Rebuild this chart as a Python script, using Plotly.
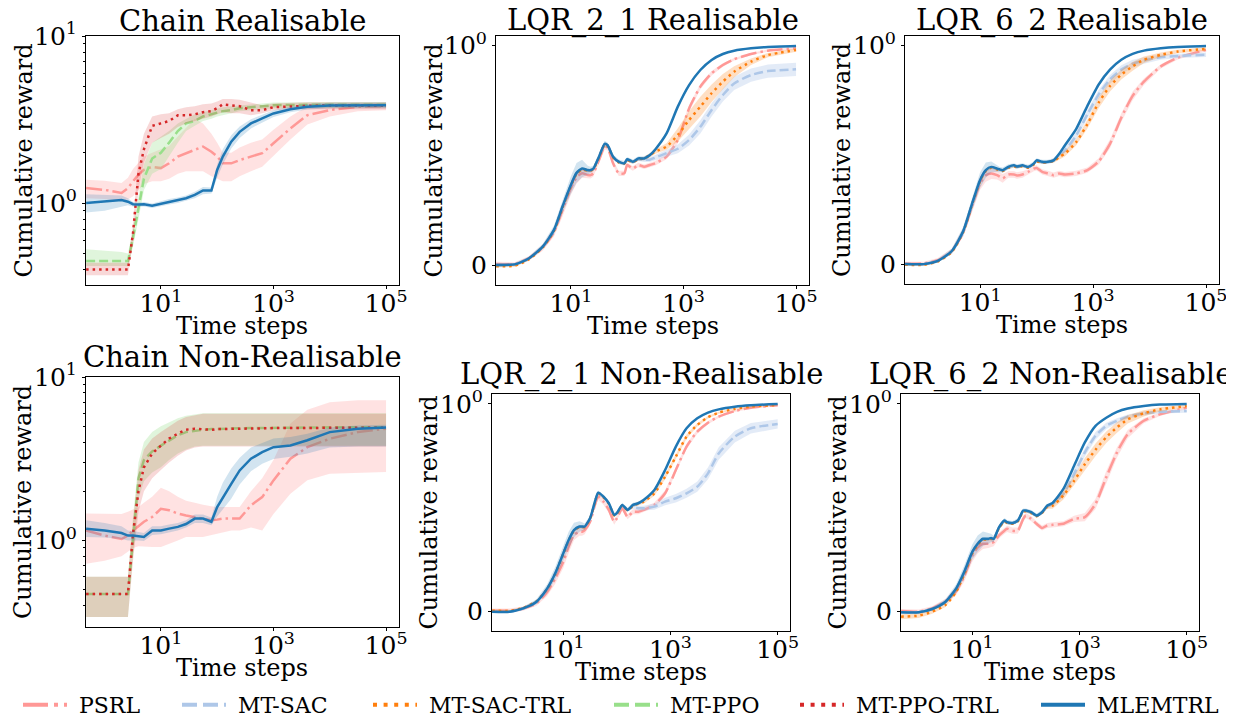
import plotly.graph_objects as go

FONT = "DejaVu Serif"

# ---------------- data ----------------
# time steps used for the Chain panels
chain_t = [0.47, 1, 2, 2.6, 3.2, 4, 5, 7, 10, 14, 20, 28, 40, 56, 79, 100, 126, 178,
           251, 398, 631, 1000, 2000, 4000, 10000, 31600, 100000]

# Chain Realisable
cr_psrl = [1.23, 1.2, 1.15, 1.23, 1.35, 1.48, 1.58, 1.65, 1.62, 1.73, 1.9, 1.99, 2.08, 2.18,
           2.03, 1.9, 1.73, 1.73, 1.81, 1.9, 1.99, 2.28, 2.8, 3.36, 3.6, 3.77, 3.81]
cr_psrl_lo = [1.07, 1.06, 1.03, 1.05, 1.1, 1.2, 1.3, 1.35, 1.35, 1.4, 1.5, 1.55, 1.55, 1.55,
              1.45, 1.4, 1.35, 1.35, 1.45, 1.55, 1.65, 1.9, 2.4, 2.95, 3.3, 3.55, 3.6]
cr_psrl_hi = [1.38, 1.36, 1.32, 1.42, 1.6, 1.75, 1.9, 2.0, 2.1, 2.2, 2.5, 2.8, 3.2, 3.0,
              2.6, 2.3, 2.0, 2.0, 2.15, 2.3, 2.4, 2.75, 3.3, 3.8, 3.9, 3.95, 3.98]
cr_ppo = [0.45, 0.45, 0.45, 0.45, 0.62, 0.95, 1.4, 1.85, 2.0, 2.3, 2.7, 3.0, 3.1, 3.3,
          3.4, 3.5, 3.55, 3.6, 3.7, 3.75, 3.8, 3.85, 3.87, 3.88, 3.88, 3.88, 3.88]
cr_ppo_lo = [0.42, 0.42, 0.42, 0.42, 0.55, 0.8, 1.2, 1.5, 1.6, 1.9, 2.3, 2.7, 2.9, 3.1,
             3.2, 3.3, 3.35, 3.45, 3.55, 3.6, 3.65, 3.7, 3.72, 3.72, 3.72, 3.72, 3.72]
cr_ppo_hi = [0.53, 0.52, 0.51, 0.5, 0.7, 1.1, 1.7, 2.3, 2.5, 2.7, 3.0, 3.2, 3.4, 3.5,
             3.6, 3.7, 3.75, 3.8, 3.85, 3.9, 3.95, 4.0, 4.02, 4.03, 4.03, 4.03, 4.03]
cr_ppotrl = [0.40, 0.40, 0.40, 0.40, 0.66, 1.5, 2.1, 2.9, 3.0, 3.1, 3.35, 3.35, 3.4, 3.5,
             3.55, 3.7, 3.9, 3.85, 3.8, 3.6, 3.6, 3.75, 3.8, 3.82, 3.84, 3.84, 3.84]
cr_ppotrl_lo = [0.37, 0.37, 0.37, 0.37, 0.6, 1.2, 1.75, 2.3, 2.45, 2.6, 2.85, 3.0, 3.1, 3.2,
                3.3, 3.4, 3.5, 3.45, 3.45, 3.35, 3.45, 3.6, 3.65, 3.65, 3.65, 3.65, 3.65]
cr_ppotrl_hi = [0.44, 0.44, 0.44, 0.44, 0.75, 1.9, 2.6, 3.3, 3.4, 3.45, 3.65, 3.75, 3.8, 3.9,
                3.95, 4.05, 4.2, 4.2, 4.15, 4.0, 3.85, 3.95, 4.0, 4.02, 4.02, 4.02, 4.02]
cr_mle = [1.0, 1.02, 1.045, 1.02, 0.985, 0.98, 0.985, 0.965, 0.99, 1.02, 1.04, 1.07, 1.12, 1.19,
          1.19, 1.58, 1.9, 2.33, 2.67, 3.0, 3.21, 3.44, 3.64, 3.77, 3.84, 3.85, 3.85]
cr_mle_lo = [0.88, 0.9, 0.95, 0.97, 0.955, 0.95, 0.955, 0.935, 0.955, 0.98, 1.0, 1.03, 1.07, 1.13,
             1.14, 1.42, 1.7, 2.12, 2.45, 2.8, 3.03, 3.28, 3.5, 3.63, 3.7, 3.7, 3.7]
cr_mle_hi = [1.13, 1.12, 1.11, 1.07, 1.015, 1.01, 1.015, 0.995, 1.03, 1.06, 1.08, 1.11, 1.17, 1.25,
             1.24, 1.7, 2.1, 2.55, 2.87, 3.18, 3.38, 3.6, 3.78, 3.92, 3.98, 4.0, 4.0]

# Chain Non-Realisable
cn_psrl = [1.15, 1.07, 1.02, 1.07, 1.15, 1.22, 1.3, 1.39, 1.56, 1.53, 1.46, 1.42, 1.39, 1.36,
           1.33, 1.34, 1.36, 1.36, 1.36, 1.64, 1.84, 2.33, 3.16, 3.72, 4.19, 4.6, 4.83]
cn_psrl_lo = [0.72, 0.75, 0.8, 0.85, 0.9, 0.92, 0.92, 0.91, 0.91, 0.95, 1.0, 1.05, 1.05, 1.05,
              1.07, 1.1, 1.12, 1.15, 1.15, 1.2, 1.15, 1.45, 1.93, 2.33, 2.56, 2.6, 2.62]
cn_psrl_hi = [1.46, 1.46, 1.45, 1.5, 1.55, 1.6, 1.7, 1.85, 2.1, 2.0, 1.85, 1.75, 1.7, 1.65,
              1.62, 1.6, 1.6, 1.6, 1.6, 2.0, 2.4, 3.1, 5.2, 6.3, 7.0, 7.2, 7.2]
cn_ppo = [0.47, 0.47, 0.47, 0.47, 1.0, 2.4, 3.1, 3.5, 3.8, 4.1, 4.4, 4.6, 4.7, 4.75,
          4.8, 4.8, 4.85, 4.85, 4.85, 4.87, 4.88, 4.9, 4.9, 4.92, 4.92, 4.92, 4.92]
cn_ppo_lo = [0.34, 0.34, 0.34, 0.34, 0.8, 1.8, 2.3, 2.6, 2.8, 3.1, 3.4, 3.6, 3.75, 3.8,
             3.8, 3.8, 3.8, 3.8, 3.8, 3.8, 3.8, 3.8, 3.8, 3.8, 3.8, 3.8, 3.8]
cn_ppo_hi = [0.6, 0.6, 0.6, 0.6, 1.4, 3.0, 4.0, 4.6, 5.0, 5.3, 5.6, 5.8, 5.9, 6.0,
             6.0, 6.0, 6.0, 6.0, 6.0, 6.0, 6.0, 6.0, 6.0, 6.0, 6.0, 6.0, 6.0]
cn_ppotrl = [0.47, 0.47, 0.47, 0.47, 1.1, 2.0, 2.8, 3.4, 3.8, 4.2, 4.5, 4.76, 4.83, 4.8,
             4.75, 4.8, 4.8, 4.8, 4.82, 4.85, 4.85, 4.87, 4.88, 4.9, 4.9, 4.9, 4.9]
cn_ppotrl_lo = [0.34, 0.34, 0.34, 0.34, 0.75, 1.5, 2.0, 2.4, 2.7, 3.0, 3.3, 3.55, 3.7, 3.75,
                3.75, 3.75, 3.75, 3.75, 3.75, 3.75, 3.75, 3.75, 3.75, 3.75, 3.75, 3.75, 3.75]
cn_ppotrl_hi = [0.6, 0.6, 0.6, 0.6, 1.3, 2.7, 3.6, 4.2, 4.6, 5.0, 5.4, 5.7, 5.85, 5.95,
                5.95, 5.95, 5.95, 5.95, 5.95, 5.95, 5.95, 5.95, 5.95, 5.95, 5.95, 5.95, 5.95]
cn_mle = [1.18, 1.15, 1.11, 1.07, 1.07, 1.06, 1.05, 1.15, 1.15, 1.18, 1.21, 1.26, 1.36, 1.36,
          1.3, 1.6, 1.84, 2.22, 2.68, 3.16, 3.47, 3.72, 3.81, 4.1, 4.6, 4.83, 4.9]
cn_mle_lo = [1.05, 1.04, 1.02, 1.0, 1.0, 1.0, 0.99, 1.08, 1.09, 1.12, 1.15, 1.2, 1.28, 1.28,
             1.24, 1.4, 1.55, 1.8, 2.2, 2.65, 2.95, 3.15, 3.25, 3.4, 3.7, 3.75, 3.75]
cn_mle_hi = [1.33, 1.28, 1.22, 1.15, 1.14, 1.12, 1.11, 1.22, 1.22, 1.25, 1.28, 1.33, 1.44, 1.44,
             1.38, 1.85, 2.25, 2.75, 3.2, 3.7, 3.95, 4.2, 4.3, 4.5, 4.9, 5.05, 5.1]

# time steps used for the LQR panels (normalised reward, 0 .. 10^0)
lqr_t = [0.47, 1, 1.78, 3.16, 5.01, 7.08, 10, 12.6, 15.8, 20, 22.4, 25.1, 31.6, 39.8, 44.7,
         56.2, 70.8, 89.1, 100, 126, 158, 200, 251, 316, 501, 794, 1259, 1995, 3162, 5012,
         7943, 15849, 31623, 100000]

# LQR_2_1 Realisable
l21r_psrl = [0.005, 0.005, 0.03, 0.08, 0.15, 0.25, 0.35, 0.40, 0.418, 0.41, 0.41, 0.418, 0.479,
             0.54, 0.535, 0.464, 0.418, 0.418, 0.456, 0.44, 0.456, 0.448, 0.456, 0.464, 0.494,
             0.57, 0.714, 0.813, 0.874, 0.912, 0.938, 0.962, 0.977, 0.988]
l21r_psrl_sd = [0.01, 0.008, 0.01, 0.015, 0.02, 0.03, 0.03, 0.03, 0.02, 0.015, 0.015, 0.015, 0.015,
                0.015, 0.012, 0.012, 0.012, 0.012, 0.01, 0.01, 0.01, 0.01, 0.01, 0.01, 0.012,
                0.015, 0.015, 0.012, 0.01, 0.008, 0.006, 0.005, 0.005, 0.005]
l21r_sac = [0.0, 0.002, 0.028, 0.082, 0.158, 0.264, 0.363, 0.418, 0.438, 0.431, 0.431, 0.438, 0.492,
            0.55, 0.545, 0.492, 0.469, 0.462, 0.48, 0.469, 0.482, 0.48, 0.48, 0.49, 0.51,
            0.53, 0.57, 0.63, 0.707, 0.775, 0.828, 0.866, 0.884, 0.892]
l21r_sac_sd = [0.005, 0.005, 0.005, 0.005, 0.005, 0.005, 0.005, 0.005, 0.005, 0.005, 0.005, 0.005,
               0.005, 0.005, 0.005, 0.005, 0.005, 0.005, 0.005, 0.005, 0.008, 0.01, 0.01, 0.012,
               0.015, 0.02, 0.025, 0.03, 0.03, 0.03, 0.03, 0.03, 0.03, 0.03]
l21r_sactrl = [-0.005, -0.003, 0.025, 0.08, 0.155, 0.26, 0.36, 0.415, 0.435, 0.43, 0.43, 0.437, 0.49,
               0.548, 0.543, 0.49, 0.468, 0.462, 0.478, 0.469, 0.483, 0.486, 0.5, 0.517, 0.54,
               0.593, 0.661, 0.722, 0.783, 0.836, 0.881, 0.927, 0.957, 0.98]
l21r_sactrl_sd = [0.006, 0.006, 0.006, 0.006, 0.006, 0.006, 0.006, 0.006, 0.006, 0.006, 0.006, 0.006,
                  0.006, 0.006, 0.006, 0.006, 0.006, 0.006, 0.006, 0.006, 0.006, 0.008, 0.01, 0.01,
                  0.015, 0.03, 0.04, 0.045, 0.04, 0.035, 0.025, 0.015, 0.01, 0.008]
l21r_mle = [0.0, 0.003, 0.03, 0.084, 0.16, 0.266, 0.365, 0.42, 0.44, 0.433, 0.433, 0.44, 0.494,
            0.552, 0.547, 0.494, 0.471, 0.464, 0.482, 0.471, 0.486, 0.486, 0.5, 0.527, 0.6,
            0.722, 0.82, 0.889, 0.935, 0.962, 0.977, 0.988, 0.994, 0.998]
l21r_mle_sd = [0.008, 0.006, 0.008, 0.012, 0.02, 0.03, 0.04, 0.045, 0.04, 0.02, 0.015, 0.012, 0.015,
               0.015, 0.012, 0.01, 0.01, 0.01, 0.01, 0.01, 0.01, 0.01, 0.008, 0.008, 0.006,
               0.006, 0.005, 0.004, 0.003, 0.003, 0.003, 0.003, 0.003, 0.003]

# LQR_6_2 Realisable
l62r_psrl = [0.003, 0.003, 0.018, 0.06, 0.145, 0.26, 0.37, 0.407, 0.415, 0.407, 0.4, 0.392, 0.41,
             0.41, 0.406, 0.41, 0.422, 0.437, 0.44, 0.422, 0.415, 0.407, 0.415, 0.41, 0.415,
             0.43, 0.47, 0.55, 0.67, 0.77, 0.835, 0.905, 0.945, 0.98]
l62r_psrl_sd = [0.008, 0.008, 0.01, 0.012, 0.02, 0.025, 0.03, 0.03, 0.025, 0.02, 0.02, 0.02, 0.015,
                0.015, 0.015, 0.015, 0.012, 0.012, 0.012, 0.012, 0.012, 0.012, 0.012, 0.012, 0.012,
                0.012, 0.015, 0.02, 0.02, 0.02, 0.015, 0.01, 0.008, 0.006]
l62r_sac = [0.0, 0.0, 0.014, 0.058, 0.148, 0.268, 0.383, 0.428, 0.443, 0.435, 0.431, 0.428, 0.443,
            0.45, 0.445, 0.45, 0.443, 0.458, 0.473, 0.466, 0.466, 0.475, 0.5, 0.52, 0.588,
            0.686, 0.777, 0.845, 0.89, 0.917, 0.932, 0.947, 0.953, 0.958]
l62r_sac_sd = [0.005, 0.005, 0.005, 0.005, 0.005, 0.005, 0.005, 0.005, 0.005, 0.005, 0.005, 0.005,
               0.005, 0.005, 0.005, 0.005, 0.005, 0.005, 0.005, 0.005, 0.006, 0.008, 0.01, 0.012,
               0.015, 0.018, 0.02, 0.02, 0.02, 0.018, 0.015, 0.012, 0.01, 0.01]
l62r_sactrl = [-0.003, -0.003, 0.012, 0.056, 0.146, 0.266, 0.38, 0.426, 0.441, 0.433, 0.429, 0.426,
               0.441, 0.448, 0.443, 0.448, 0.441, 0.456, 0.47, 0.464, 0.468, 0.472, 0.49, 0.505,
               0.558, 0.641, 0.739, 0.815, 0.867, 0.905, 0.935, 0.958, 0.973, 0.985]
l62r_sactrl_sd = [0.005, 0.005, 0.005, 0.005, 0.005, 0.005, 0.005, 0.005, 0.005, 0.005, 0.005, 0.005,
                  0.005, 0.005, 0.005, 0.005, 0.005, 0.005, 0.005, 0.005, 0.005, 0.008, 0.01, 0.012,
                  0.015, 0.02, 0.025, 0.025, 0.022, 0.02, 0.015, 0.01, 0.008, 0.008]
l62r_mle = [0.0, 0.0, 0.015, 0.06, 0.15, 0.27, 0.385, 0.43, 0.445, 0.437, 0.433, 0.43, 0.445,
            0.452, 0.447, 0.452, 0.445, 0.46, 0.475, 0.468, 0.468, 0.475, 0.505, 0.543, 0.618,
            0.724, 0.822, 0.89, 0.935, 0.962, 0.977, 0.988, 0.994, 0.998]
l62r_mle_sd = [0.005, 0.005, 0.008, 0.012, 0.02, 0.03, 0.035, 0.035, 0.025, 0.015, 0.012, 0.012, 0.012,
               0.01, 0.01, 0.01, 0.01, 0.01, 0.01, 0.01, 0.01, 0.01, 0.008, 0.008, 0.006,
               0.006, 0.005, 0.004, 0.003, 0.003, 0.003, 0.003, 0.003, 0.003]

# LQR_2_1 Non-Realisable
l21n_psrl = [0.005, 0.005, 0.015, 0.04, 0.095, 0.16, 0.24, 0.313, 0.369, 0.385, 0.385, 0.393, 0.433,
             0.522, 0.554, 0.53, 0.49, 0.433, 0.449, 0.498, 0.457, 0.481, 0.481, 0.49, 0.514,
             0.57, 0.682, 0.795, 0.867, 0.91, 0.939, 0.966, 0.982, 0.994]
l21n_psrl_sd = [0.01, 0.01, 0.01, 0.012, 0.02, 0.025, 0.03, 0.03, 0.025, 0.02, 0.02, 0.02, 0.015,
                0.015, 0.015, 0.015, 0.015, 0.015, 0.012, 0.012, 0.012, 0.012, 0.012, 0.012, 0.012,
                0.015, 0.015, 0.012, 0.01, 0.008, 0.006, 0.005, 0.005, 0.005]
l21n_sac = [0.0, 0.0, 0.015, 0.046, 0.11, 0.183, 0.279, 0.343, 0.391, 0.408, 0.408, 0.408, 0.448,
            0.536, 0.571, 0.552, 0.52, 0.464, 0.472, 0.512, 0.49, 0.505, 0.498, 0.498, 0.506,
            0.53, 0.546, 0.57, 0.602, 0.666, 0.762, 0.843, 0.883, 0.904]
l21n_sac_sd = [0.005, 0.005, 0.005, 0.005, 0.005, 0.005, 0.005, 0.005, 0.005, 0.005, 0.005, 0.005,
               0.005, 0.005, 0.005, 0.005, 0.005, 0.005, 0.005, 0.005, 0.008, 0.01, 0.012, 0.012,
               0.015, 0.018, 0.02, 0.022, 0.025, 0.028, 0.03, 0.028, 0.025, 0.022]
l21n_sactrl = [0.005, 0.004, 0.018, 0.05, 0.11, 0.182, 0.278, 0.342, 0.39, 0.407, 0.407, 0.407, 0.447,
               0.535, 0.57, 0.551, 0.519, 0.463, 0.471, 0.511, 0.488, 0.511, 0.52, 0.53, 0.57,
               0.65, 0.746, 0.843, 0.899, 0.936, 0.958, 0.976, 0.987, 0.995]
l21n_sactrl_sd = [0.005, 0.005, 0.005, 0.005, 0.005, 0.005, 0.005, 0.005, 0.005, 0.005, 0.005, 0.005,
                  0.005, 0.005, 0.005, 0.005, 0.005, 0.005, 0.005, 0.005, 0.005, 0.006, 0.008, 0.01,
                  0.012, 0.012, 0.012, 0.01, 0.008, 0.006, 0.005, 0.004, 0.004, 0.004]
l21n_mle = [0.0, 0.0, 0.016, 0.048, 0.112, 0.185, 0.281, 0.345, 0.393, 0.41, 0.41, 0.41, 0.45,
            0.538, 0.573, 0.554, 0.522, 0.466, 0.474, 0.514, 0.49, 0.514, 0.522, 0.538, 0.586,
            0.682, 0.795, 0.883, 0.931, 0.958, 0.974, 0.987, 0.994, 1.0]
l21n_mle_sd = [0.006, 0.006, 0.008, 0.012, 0.02, 0.03, 0.035, 0.04, 0.035, 0.025, 0.02, 0.015, 0.012,
               0.012, 0.01, 0.01, 0.01, 0.01, 0.01, 0.01, 0.01, 0.01, 0.008, 0.008, 0.006,
               0.006, 0.005, 0.004, 0.003, 0.003, 0.003, 0.003, 0.003, 0.003]

# LQR_6_2 Non-Realisable
l62n_psrl = [0.003, 0.0, 0.016, 0.05, 0.1, 0.17, 0.27, 0.31, 0.327, 0.327, 0.33, 0.335, 0.367,
             0.39, 0.399, 0.39, 0.39, 0.447, 0.463, 0.447, 0.423, 0.403, 0.415, 0.418, 0.423,
             0.447, 0.455, 0.519, 0.647, 0.767, 0.855, 0.919, 0.95, 0.982]
l62n_psrl_sd = [0.01, 0.01, 0.01, 0.012, 0.02, 0.025, 0.03, 0.03, 0.025, 0.02, 0.02, 0.02, 0.015,
                0.015, 0.015, 0.015, 0.015, 0.015, 0.012, 0.012, 0.012, 0.012, 0.012, 0.012, 0.012,
                0.015, 0.02, 0.025, 0.03, 0.025, 0.02, 0.012, 0.008, 0.006]
l62n_sac = [-0.003, -0.003, 0.012, 0.047, 0.11, 0.19, 0.286, 0.325, 0.349, 0.349, 0.353, 0.349, 0.405,
            0.437, 0.429, 0.425, 0.437, 0.485, 0.485, 0.477, 0.461, 0.477, 0.505, 0.52, 0.567,
            0.663, 0.767, 0.847, 0.895, 0.919, 0.939, 0.955, 0.962, 0.966]
l62n_sac_sd = [0.005, 0.005, 0.005, 0.005, 0.005, 0.005, 0.005, 0.005, 0.005, 0.005, 0.005, 0.005,
               0.005, 0.005, 0.005, 0.005, 0.005, 0.005, 0.005, 0.005, 0.006, 0.008, 0.01, 0.012,
               0.015, 0.018, 0.02, 0.018, 0.015, 0.012, 0.01, 0.01, 0.008, 0.008]
l62n_sactrl = [-0.024, -0.019, 0.0, 0.032, 0.096, 0.18, 0.28, 0.322, 0.347, 0.347, 0.351, 0.347, 0.403,
               0.435, 0.427, 0.423, 0.435, 0.483, 0.483, 0.475, 0.46, 0.476, 0.505, 0.51, 0.56,
               0.63, 0.71, 0.78, 0.84, 0.887, 0.926, 0.955, 0.974, 0.99]
l62n_sactrl_sd = [0.012, 0.012, 0.01, 0.01, 0.008, 0.006, 0.006, 0.006, 0.006, 0.006, 0.006, 0.006,
                  0.006, 0.006, 0.006, 0.006, 0.006, 0.006, 0.006, 0.006, 0.006, 0.008, 0.01, 0.015,
                  0.02, 0.025, 0.03, 0.03, 0.028, 0.025, 0.02, 0.015, 0.01, 0.008]
l62n_mle = [-0.003, -0.003, 0.013, 0.048, 0.112, 0.192, 0.288, 0.327, 0.351, 0.351, 0.355, 0.351, 0.407,
            0.439, 0.431, 0.427, 0.439, 0.487, 0.487, 0.479, 0.463, 0.479, 0.511, 0.524, 0.591,
            0.703, 0.815, 0.895, 0.934, 0.962, 0.978, 0.99, 0.997, 1.0]
l62n_mle_sd = [0.006, 0.006, 0.008, 0.012, 0.02, 0.03, 0.035, 0.04, 0.035, 0.025, 0.02, 0.015, 0.012,
               0.012, 0.01, 0.01, 0.01, 0.01, 0.01, 0.01, 0.01, 0.01, 0.008, 0.008, 0.006,
               0.006, 0.005, 0.004, 0.003, 0.003, 0.003, 0.003, 0.003, 0.003]

x_tickvals = [10, 1000, 100000]
x_ticktext = ["10<sup>1</sup>", "10<sup>3</sup>", "10<sup>5</sup>"]

# ---------------- styles ----------------
STYLE = {
    "PSRL": dict(color="#ff9896", fill="rgba(255,152,150,0.28)", dash="16px,4px,2.5px,4px",
                 ldash="25px,6px,4px,6px"),
    "MT-SAC": dict(color="#aec7e8", fill="rgba(174,199,232,0.35)", dash="9px,4px",
                   ldash="15px,6px"),
    "MT-SAC-TRL": dict(color="#ff7f0e", fill="rgba(255,127,14,0.25)", dash="2.5px,4px",
                       ldash="4px,6.6px"),
    "MT-PPO": dict(color="#98df8a", fill="rgba(152,223,138,0.3)", dash="9px,4px",
                   ldash="15px,6px"),
    "MT-PPO-TRL": dict(color="#d62728", fill="rgba(214,39,40,0.18)", dash="2.5px,4px",
                       ldash="4px,6.6px"),
    "MLEMTRL": dict(color="#1f77b4", fill="rgba(31,119,180,0.2)", dash="solid",
                    ldash="solid"),
}

# the page body has an 8px margin, so the figure is laid out 8px smaller
W, H = 1226, 711


def dom_x(left, right):
    return [(left - 8) / W, (right - 8) / W]


def dom_y(top, bottom):
    return [1 - (bottom - 8) / H, 1 - (top - 8) / H]


def band(mean, sd):
    return [m - s for m, s in zip(mean, sd)], [m + s for m, s in zip(mean, sd)]


panels = [
    dict(title="Chain Realisable", kind="chain", dx=dom_x(86, 399), dy=dom_y(36, 285),
         yr=[-0.49, 1.0], t=chain_t, tshift=-4,
         series=[("PSRL", cr_psrl, cr_psrl_lo, cr_psrl_hi),
                 ("MT-PPO", cr_ppo, cr_ppo_lo, cr_ppo_hi),
                 ("MT-PPO-TRL", cr_ppotrl, cr_ppotrl_lo, cr_ppotrl_hi),
                 ("MLEMTRL", cr_mle, cr_mle_lo, cr_mle_hi)]),
    dict(title="LQR_2_1 Realisable", kind="lqr", dx=dom_x(496, 809), dy=dom_y(36, 285),
         yr=[-0.091, 1.044], t=lqr_t, tshift=-4,
         series=[("PSRL", l21r_psrl, *band(l21r_psrl, l21r_psrl_sd)),
                 ("MT-SAC", l21r_sac, *band(l21r_sac, l21r_sac_sd)),
                 ("MT-SAC-TRL", l21r_sactrl, *band(l21r_sactrl, l21r_sactrl_sd)),
                 ("MLEMTRL", l21r_mle, *band(l21r_mle, l21r_mle_sd))]),
    dict(title="LQR_6_2 Realisable", kind="lqr", dx=dom_x(905, 1219), dy=dom_y(36, 284),
         yr=[-0.091, 1.044], t=lqr_t, tshift=-4,
         series=[("PSRL", l62r_psrl, *band(l62r_psrl, l62r_psrl_sd)),
                 ("MT-SAC", l62r_sac, *band(l62r_sac, l62r_sac_sd)),
                 ("MT-SAC-TRL", l62r_sactrl, *band(l62r_sactrl, l62r_sactrl_sd)),
                 ("MLEMTRL", l62r_mle, *band(l62r_mle, l62r_mle_sd))]),
    dict(title="Chain Non-Realisable", kind="chain", dx=dom_x(86, 399), dy=dom_y(377, 627),
         yr=[-0.53, 1.0], t=chain_t, tshift=1,
         series=[("PSRL", cn_psrl, cn_psrl_lo, cn_psrl_hi),
                 ("MT-PPO", cn_ppo, cn_ppo_lo, cn_ppo_hi),
                 ("MT-PPO-TRL", cn_ppotrl, cn_ppotrl_lo, cn_ppotrl_hi),
                 ("MLEMTRL", cn_mle, cn_mle_lo, cn_mle_hi)]),
    dict(title="LQR_2_1 Non-Realisable", kind="lqr", dx=dom_x(492, 790), dy=dom_y(394, 631),
         yr=[-0.093, 1.048], t=lqr_t, tshift=0,
         series=[("PSRL", l21n_psrl, *band(l21n_psrl, l21n_psrl_sd)),
                 ("MT-SAC", l21n_sac, *band(l21n_sac, l21n_sac_sd)),
                 ("MT-SAC-TRL", l21n_sactrl, *band(l21n_sactrl, l21n_sactrl_sd)),
                 ("MLEMTRL", l21n_mle, *band(l21n_mle, l21n_mle_sd))]),
    dict(title="LQR_6_2 Non-Realisable", kind="lqr", dx=dom_x(901, 1199), dy=dom_y(394, 631),
         yr=[-0.093, 1.048], t=lqr_t, tshift=0,
         series=[("PSRL", l62n_psrl, *band(l62n_psrl, l62n_psrl_sd)),
                 ("MT-SAC", l62n_sac, *band(l62n_sac, l62n_sac_sd)),
                 ("MT-SAC-TRL", l62n_sactrl, *band(l62n_sactrl, l62n_sactrl_sd)),
                 ("MLEMTRL", l62n_mle, *band(l62n_mle, l62n_mle_sd))]),
]

fig = go.Figure()
annotations = []
axis_common = dict(showline=True, mirror=True, linecolor="black", linewidth=1,
                   ticks="outside", ticklen=3, tickcolor="black", showgrid=False,
                   zeroline=False, automargin=False,
                   tickfont=dict(family=FONT, size=25, color="black"))

for i, p in enumerate(panels, start=1):
    xa = "x" if i == 1 else f"x{i}"
    ya = "y" if i == 1 else f"y{i}"
    for name, mean, lo, hi in p["series"]:
        st = STYLE[name]
        fig.add_trace(go.Scatter(
            x=p["t"] + p["t"][::-1], y=hi + lo[::-1], fill="toself",
            fillcolor=st["fill"], line=dict(width=0), mode="lines",
            hoverinfo="skip", showlegend=False, xaxis=xa, yaxis=ya))
        fig.add_trace(go.Scatter(
            x=p["t"], y=mean, mode="lines", name=name, showlegend=False,
            line=dict(color=st["color"], width=2.5, dash=st["dash"],
                      shape="spline" if p["kind"] == "lqr" else "linear", smoothing=0.6),
            xaxis=xa, yaxis=ya))

    xkey = "xaxis" if i == 1 else f"xaxis{i}"
    ykey = "yaxis" if i == 1 else f"yaxis{i}"
    fig.layout[xkey] = dict(axis_common, type="log", range=[-0.33, 5.23], domain=p["dx"],
                            anchor=ya, tickvals=x_tickvals, ticktext=x_ticktext,
                            ticklabelstandoff=-7)
    if p["kind"] == "chain":
        fig.layout[ykey] = dict(axis_common, type="log", range=p["yr"], domain=p["dy"],
                                anchor=xa, tickvals=[1, 10],
                                ticktext=["10<sup>0</sup>", "10<sup>1</sup>"],
                                minor=dict(tickvals=[0.4, 0.5, 0.6, 0.7, 0.8, 0.9,
                                                     2, 3, 4, 5, 6, 7, 8, 9],
                                           ticks="outside", ticklen=2, tickcolor="black"))
    else:
        fig.layout[ykey] = dict(axis_common, type="linear", range=p["yr"], domain=p["dy"],
                                anchor=xa, tickvals=[0, 1], ticktext=["0", "10<sup>0</sup>"])

    dx_ref = f"{xa} domain"
    dy_ref = f"{ya} domain"
    annotations.append(dict(text=p["title"], xref=dx_ref, yref=dy_ref, x=0.5, y=1,
                            yshift=p["tshift"], xanchor="center", yanchor="bottom",
                            showarrow=False, font=dict(family=FONT, size=29, color="black")))
    annotations.append(dict(text="Cumulative reward", xref=dx_ref, yref=dy_ref, x=0, y=0.5,
                            xshift=-63, textangle=-90, xanchor="center", yanchor="middle",
                            showarrow=False, font=dict(family=FONT, size=24, color="black")))
    annotations.append(dict(text="Time steps", xref=dx_ref, yref=dy_ref, x=0.5, y=0,
                            yshift=-41, xanchor="center", yanchor="middle",
                            showarrow=False, font=dict(family=FONT, size=24, color="black")))

# legend: one entry per legend box so the spacing follows the reference
legend_names = ["PSRL", "MT-SAC", "MT-SAC-TRL", "MT-PPO", "MT-PPO-TRL", "MLEMTRL"]
legend_x = [23, 182, 373, 614, 800, 1041]
for k, (name, px) in enumerate(zip(legend_names, legend_x), start=1):
    lg = "legend" if k == 1 else f"legend{k}"
    st = STYLE[name]
    fig.add_trace(go.Scatter(x=[None], y=[None], mode="lines", name="\u00a0" + name,
                             legend=lg,
                             line=dict(color=st["color"], width=4, dash=st["ldash"])))
    fig.layout[lg] = dict(x=(px - 13) / W, y=1 - (705 - 8) / H, xref="container",
                          yref="container", xanchor="left", yanchor="middle",
                          orientation="h", bgcolor="rgba(0,0,0,0)", itemwidth=44,
                          font=dict(family=FONT, size=22, color="black"))

fig.update_layout(
    width=W, height=H, autosize=False,
    margin=dict(l=0, r=0, t=0, b=0, autoexpand=False),
    paper_bgcolor="white", plot_bgcolor="white",
    annotations=annotations,
)

fig.write_html("out.html")
